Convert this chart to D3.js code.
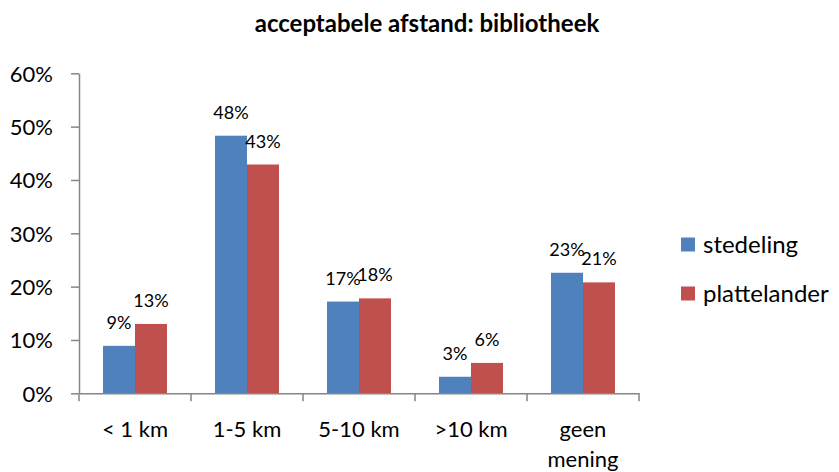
<!DOCTYPE html>
<html>
<head>
<meta charset="utf-8">
<script src="https://cdn.jsdelivr.net/npm/d3@7"></script>
<style>
  html, body { margin: 0; padding: 0; background: #fff; }
  svg { display: block; font-family: Lato, "Open Sans", sans-serif; }
</style>
</head>
<body>
<div id="chart"></div>
<script>
const categories = ["< 1 km", "1-5 km", "5-10 km", ">10 km", "geen mening"];
const seriesNames = ["stedeling", "plattelander"];
const stedeling = [8.9, 48.3, 17.2, 3.1, 22.6];
const plattelander = [13.0, 42.9, 17.8, 5.7, 20.8];
const yTicks = [0, 10, 20, 30, 40, 50, 60];
const title = "acceptabele afstand: bibliotheek";
const colors = ["#4F81BD", "#C0504D"];

(function () {
const W = 839, H = 472;
const svg = d3.select("#chart").append("svg").attr("width", W).attr("height", H);

const pLeft = 79, pRight = 639, pTop = 73.3, pBottom = 393.3;

const x = d3.scaleBand().domain(categories).range([pLeft, pRight]).paddingInner(0).paddingOuter(0);
const y = d3.scaleLinear().domain([0, 60]).range([pBottom, pTop]);
// group width 64 of 112 => 24 px each side
const inner = d3.scaleBand().domain(seriesNames).range([24, x.bandwidth() - 24]);

const data = categories.map((c, i) => ({ cat: c, vals: [stedeling[i], plattelander[i]] }));

// Title
svg.append("text").attr("x", 427).attr("y", 32).attr("text-anchor", "middle")
  .attr("font-weight", "bold").attr("font-size", 24).attr("fill", "#000").text(title);

// Bars
const g = svg.append("g");
data.forEach(d => {
  d.vals.forEach((v, j) => {
    g.append("rect")
      .attr("x", x(d.cat) + inner(seriesNames[j]))
      .attr("y", y(v))
      .attr("width", inner.bandwidth())
      .attr("height", y(0) - y(v))
      .attr("fill", colors[j]);
    g.append("text")
      .attr("x", x(d.cat) + inner(seriesNames[j]) + inner.bandwidth() / 2)
      .attr("y", y(v) - 17)
      .attr("text-anchor", "middle")
      .attr("font-size", 18)
      .attr("fill", "#000")
      .text(Math.round(v) + "%");
  });
});

// Y axis
const yAxis = d3.axisLeft(y).tickValues(yTicks).tickFormat(d => d + "%").tickSize(8).tickSizeOuter(0);
const ya = svg.append("g").attr("transform", `translate(${pLeft},0)`).call(yAxis);
ya.select(".domain").attr("stroke", "#868686").attr("stroke-width", 1.5);
ya.selectAll(".tick line").attr("stroke", "#868686").attr("stroke-width", 1.5);
ya.selectAll(".tick text").attr("font-size", 22).attr("font-family", "Lato, sans-serif")
  .attr("fill", "#000").attr("x", -26).attr("dy", "0.35em");

// X axis
const xAxis = d3.axisBottom(x).tickSize(0).tickSizeOuter(0).tickFormat("");
const xa = svg.append("g").attr("transform", `translate(0,${pBottom})`).call(xAxis);
xa.select(".domain").attr("stroke", "#868686").attr("stroke-width", 1.5);
const bounds = categories.map(c => x(c)).concat([x(categories[categories.length - 1]) + x.bandwidth()]);
xa.selectAll("line.bound").data(bounds).enter().append("line")
  .attr("class", "bound").attr("x1", d => d).attr("x2", d => d)
  .attr("y1", 0).attr("y2", 8).attr("stroke", "#868686").attr("stroke-width", 1.5);

// Category labels
categories.forEach(c => {
  const lines = c === "geen mening" ? ["geen", "mening"] : [c];
  lines.forEach((ln, k) => {
    svg.append("text").attr("x", x(c) + x.bandwidth() / 2).attr("y", 437 + k * 30)
      .attr("text-anchor", "middle").attr("font-size", 22).attr("fill", "#000").text(ln);
  });
});

// Legend
const legendY = [244.5, 293.5];
seriesNames.forEach((s, j) => {
  svg.append("rect").attr("x", 681).attr("y", legendY[j] - 7).attr("width", 14).attr("height", 14).attr("fill", colors[j]);
  svg.append("text").attr("x", 703).attr("y", legendY[j]).attr("dy", "0.35em")
    .attr("font-size", 24).attr("fill", "#000").text(s);
});
})();
</script>
</body>
</html>
